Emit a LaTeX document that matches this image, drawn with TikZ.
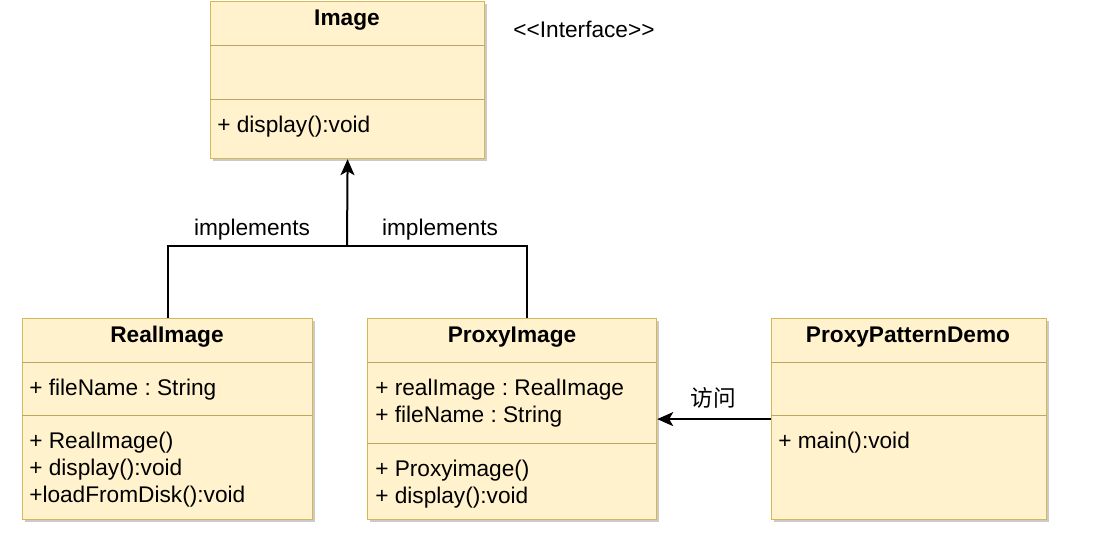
\documentclass[tikz,border=0pt]{standalone}
\usepackage{fontspec}
\setmainfont{Liberation Sans}
\newfontfamily\cjk{Noto Sans CJK SC}
\usetikzlibrary{arrows.meta,shadows,positioning}
\definecolor{umlfill}{RGB}{255,242,204}
\definecolor{umlline}{RGB}{214,182,86}
\frenchspacing

\begin{document}
\begin{tikzpicture}[x=0.75pt,y=-0.75pt,
    umlbox/.style={draw=umlline, fill=umlfill, line width=0.9pt, anchor=north west, inner sep=0pt,
      drop shadow={shadow xshift=2pt, shadow yshift=-2pt, fill=black!35, opacity=0.6}},
    title/.style={font=\fontsize{17}{20}\selectfont\bfseries},
    members/.style={anchor=north west, inner sep=0pt, align=left, font=\fontsize{17}{20.25}\selectfont},
    divider/.style={draw=umlline!70!gray, line width=0.7pt},
    link/.style={line width=1.5pt},
    tip/.style={-{Stealth[length=12pt, width=10.5pt, inset=3pt]}},
    lbl/.style={font=\fontsize{17}{20}\selectfont}]
  \useasboundingbox (0,0) rectangle (1104,539);

  % classes
  \node[umlbox, minimum width=205.5pt, minimum height=117.75pt] (image) at (210,1) {};
  \node[umlbox, minimum width=217.5pt, minimum height=150.75pt] (real) at (22,318) {};
  \node[umlbox, minimum width=216.75pt, minimum height=150.75pt] (proxy) at (367,318) {};
  \node[umlbox, minimum width=206.25pt, minimum height=150.75pt] (demo) at (771,318) {};

  \draw[divider] (210,45) -- (484,45);
  \draw[divider] (210,99) -- (484,99);
  \draw[divider] (22,362) -- (312,362);
  \draw[divider] (22,415) -- (312,415);
  \draw[divider] (367,362) -- (656,362);
  \draw[divider] (367,443) -- (656,443);
  \draw[divider] (771,362) -- (1046,362);
  \draw[divider] (771,415) -- (1046,415);

  \node[title] (image-t) at (347,20) {Image};
  \node[members] (image-m) at (217,116) {+ display():void};
  \node[lbl] (iface) at (584,29) {{<}{<}Interface{>}{>}};

  \node[title] (real-t) at (167,337) {RealImage};
  \node[members] (real-a) at (29,379) {+ fileName : String};
  \node[members] (real-m) at (29,432) {+ RealImage()\\+ display():void\\+loadFromDisk():void};

  \node[title] (proxy-t) at (512,337) {ProxyImage};
  \node[members] (proxy-a) at (375,379) {+ realImage : RealImage\\+ fileName : String};
  \node[members] (proxy-m) at (375,460) {+ Proxyimage()\\+ display():void};

  \node[title] (demo-t) at (908,337) {ProxyPatternDemo};
  \node[members] (demo-m) at (778,432) {+ main():void};

  % connectors
  \coordinate (join) at (347,246);
  \draw[link] (real.north) |- (join) -| ([xshift=11.25pt]proxy.north);
  \draw[link, tip] (join) -- (image.south);
  \node[lbl] (impl-l) at (252,230) {implements};
  \node[lbl] (impl-r) at (440,230) {implements};

  \draw[link, tip] (demo.west) -- (proxy.east);
  \node[lbl, font=\cjk\fontsize{17}{20}\selectfont] (visit) at (713,398) {访问};
\end{tikzpicture}
\end{document}
